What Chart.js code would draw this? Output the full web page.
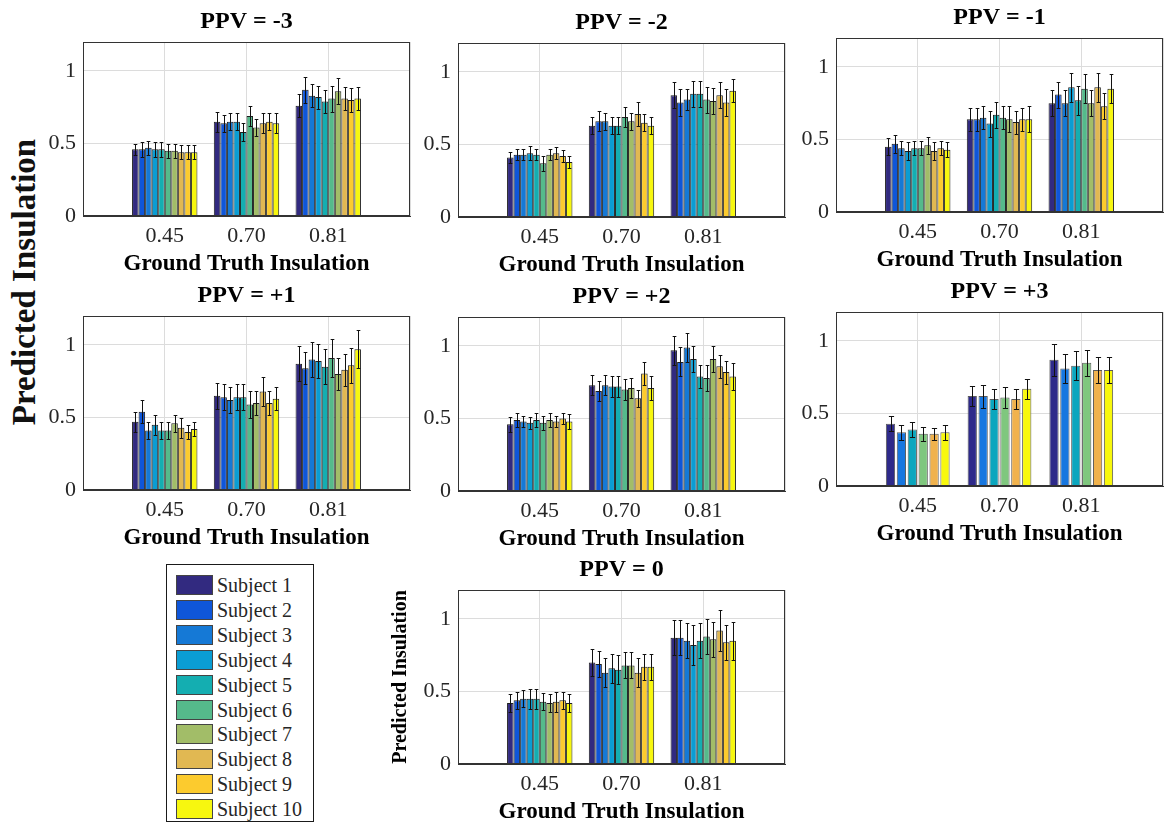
<!DOCTYPE html>
<html>
<head>
<meta charset="utf-8">
<script src="https://cdn.jsdelivr.net/npm/chart.js@4.4.1/dist/chart.umd.min.js"></script>
<style>
  html, body { margin: 0; padding: 0; background: #fff; }
  body { width: 1173px; height: 828px; position: relative; overflow: hidden;
         font-family: "Liberation Serif", "Times New Roman", serif; }
  canvas { position: absolute; }
  #bigLabel { position: absolute; left: 24px; top: 282px; transform: translate(-50%, -50%) rotate(-90deg);
              font-weight: bold; font-size: 33px; white-space: nowrap; color: #111; }
  #legend { position: absolute; left: 166px; top: 564px; width: 146px; height: 256px;
            border: 1.5px solid #1a1a1a; background: #fff; }
  .item { position: absolute; left: 9px; height: 20px; display: flex; align-items: center; }
  .swatch { width: 35px; height: 18px; border: 1px solid #444; margin-right: 4px; }
  .name { font-size: 20px; color: #262626; line-height: 20px; }
</style>
</head>
<body>
<div id="bigLabel">Predicted Insulation</div>
<div id="legend"></div>

<script>
// Ground-truth insulation groups on the x axis
const groupLabels = ['0.45', '0.70', '0.81'];

const subjects = ['Subject 1', 'Subject 2', 'Subject 3', 'Subject 4', 'Subject 5',
                  'Subject 6', 'Subject 7', 'Subject 8', 'Subject 9', 'Subject 10'];
const subjectColors = ['#322a80', '#0f56d9', '#1579d6', '#0a9dd3', '#14aeb1',
                       '#55ba8b', '#a2bd68', '#e1b852', '#fccb2e', '#f7f70f'];

// the PPV = +3 panel only has six subjects and its own palette
const subsetNames = ['Subject A', 'Subject B', 'Subject C', 'Subject D', 'Subject E', 'Subject F'];
const subsetColors = ['#2e2a8a', '#1777e0', '#0ba6be', '#7fc77e', '#f0b24d', '#f8f80c'];

const panelTitles = ['PPV = -3', 'PPV = -2', 'PPV = -1', 'PPV = +1', 'PPV = +2', 'PPV = +3', 'PPV = 0'];

// mean predicted insulation, one row per ground-truth group, one column per subject
const meanM3 = [
  [0.46, 0.46, 0.47, 0.46, 0.46, 0.45, 0.45, 0.44, 0.44, 0.44],
  [0.65, 0.64, 0.65, 0.65, 0.58, 0.69, 0.61, 0.64, 0.65, 0.64],
  [0.76, 0.87, 0.83, 0.82, 0.79, 0.81, 0.86, 0.81, 0.80, 0.81]
];
const errM3 = [
  [0.04, 0.05, 0.05, 0.05, 0.05, 0.05, 0.05, 0.05, 0.05, 0.05],
  [0.07, 0.06, 0.06, 0.06, 0.06, 0.07, 0.06, 0.07, 0.06, 0.07],
  [0.08, 0.09, 0.08, 0.08, 0.08, 0.09, 0.09, 0.08, 0.08, 0.08]
];

const meanM2 = [
  [0.41, 0.43, 0.43, 0.44, 0.43, 0.37, 0.43, 0.44, 0.42, 0.38],
  [0.63, 0.66, 0.66, 0.63, 0.63, 0.69, 0.66, 0.71, 0.65, 0.63],
  [0.84, 0.79, 0.81, 0.85, 0.85, 0.81, 0.80, 0.84, 0.79, 0.87]
];
const errM2 = [
  [0.04, 0.04, 0.04, 0.05, 0.04, 0.05, 0.04, 0.04, 0.04, 0.04],
  [0.06, 0.07, 0.06, 0.06, 0.06, 0.07, 0.06, 0.08, 0.06, 0.06],
  [0.09, 0.09, 0.07, 0.09, 0.09, 0.09, 0.09, 0.09, 0.09, 0.08]
];

const meanM1 = [
  [0.45, 0.47, 0.44, 0.42, 0.44, 0.44, 0.46, 0.42, 0.44, 0.43],
  [0.64, 0.64, 0.65, 0.61, 0.67, 0.65, 0.64, 0.62, 0.64, 0.64],
  [0.75, 0.81, 0.75, 0.86, 0.77, 0.85, 0.75, 0.86, 0.73, 0.85]
];
const errM1 = [
  [0.06, 0.06, 0.05, 0.06, 0.05, 0.05, 0.06, 0.06, 0.05, 0.05],
  [0.08, 0.08, 0.08, 0.09, 0.09, 0.08, 0.09, 0.08, 0.08, 0.09],
  [0.09, 0.09, 0.09, 0.10, 0.10, 0.10, 0.09, 0.10, 0.09, 0.10]
];

const meanP1 = [
  [0.47, 0.54, 0.41, 0.45, 0.41, 0.41, 0.46, 0.43, 0.40, 0.42],
  [0.65, 0.64, 0.62, 0.64, 0.64, 0.59, 0.60, 0.68, 0.60, 0.63],
  [0.87, 0.84, 0.90, 0.89, 0.85, 0.91, 0.80, 0.83, 0.86, 0.97]
];
const errP1 = [
  [0.07, 0.08, 0.06, 0.07, 0.06, 0.06, 0.06, 0.07, 0.05, 0.05],
  [0.09, 0.09, 0.09, 0.09, 0.09, 0.09, 0.08, 0.10, 0.08, 0.08],
  [0.12, 0.11, 0.12, 0.12, 0.12, 0.13, 0.11, 0.11, 0.12, 0.13]
];

const meanP2 = [
  [0.46, 0.49, 0.48, 0.47, 0.49, 0.47, 0.49, 0.48, 0.50, 0.48],
  [0.73, 0.69, 0.73, 0.72, 0.72, 0.70, 0.71, 0.64, 0.81, 0.71],
  [0.97, 0.89, 0.99, 0.91, 0.79, 0.78, 0.91, 0.86, 0.82, 0.79]
];
const errP2 = [
  [0.05, 0.05, 0.04, 0.04, 0.05, 0.05, 0.05, 0.04, 0.04, 0.05],
  [0.07, 0.07, 0.07, 0.07, 0.07, 0.07, 0.07, 0.06, 0.08, 0.08],
  [0.10, 0.10, 0.10, 0.09, 0.08, 0.09, 0.09, 0.08, 0.08, 0.09]
];

const meanP3 = [
  [0.43, 0.37, 0.39, 0.36, 0.36, 0.37],
  [0.62, 0.62, 0.60, 0.61, 0.60, 0.67],
  [0.87, 0.81, 0.83, 0.85, 0.80, 0.80]
];
const errP3 = [
  [0.05, 0.05, 0.05, 0.05, 0.04, 0.05],
  [0.07, 0.08, 0.07, 0.07, 0.07, 0.07],
  [0.11, 0.10, 0.10, 0.09, 0.09, 0.09]
];

const meanZero = [
  [0.42, 0.44, 0.45, 0.45, 0.45, 0.43, 0.42, 0.43, 0.44, 0.42],
  [0.70, 0.69, 0.63, 0.66, 0.65, 0.68, 0.68, 0.63, 0.67, 0.67],
  [0.87, 0.87, 0.85, 0.82, 0.85, 0.88, 0.86, 0.92, 0.84, 0.85]
];
const errZero = [
  [0.06, 0.06, 0.06, 0.07, 0.07, 0.06, 0.06, 0.07, 0.06, 0.06],
  [0.09, 0.09, 0.10, 0.10, 0.10, 0.09, 0.09, 0.10, 0.09, 0.09],
  [0.12, 0.12, 0.12, 0.14, 0.12, 0.12, 0.12, 0.14, 0.12, 0.13]
];

const yTicks = { min: 0, max: 1.2, step: 0.5 };

// ---- layout of the seven panels ----
const FONT = '"Liberation Serif", "Times New Roman", serif';
const BOX_W = 333, BOX_H = 174, TOP_AREA = 35, BOTTOM_AREA = 60, RIGHT_PAD = 3;

const panels = [
  { title: panelTitles[0], mean: meanM3, err: errM3, boxLeft: 83,  boxTop: 42 },
  { title: panelTitles[1], mean: meanM2, err: errM2, boxLeft: 458, boxTop: 43 },
  { title: panelTitles[2], mean: meanM1, err: errM1, boxLeft: 836, boxTop: 38 },
  { title: panelTitles[3], mean: meanP1, err: errP1, boxLeft: 83,  boxTop: 316 },
  { title: panelTitles[4], mean: meanP2, err: errP2, boxLeft: 458, boxTop: 317 },
  { title: panelTitles[5], mean: meanP3, err: errP3, boxLeft: 836, boxTop: 312, subset: true },
  { title: panelTitles[6], mean: meanZero, err: errZero, boxLeft: 458, boxTop: 590, yTitle: 'Predicted Insulation' }
];

// error bars drawn on top of each bar from the dataset's `errors` array
const errorBars = {
  id: 'errorBars',
  afterDatasetsDraw(chart) {
    const ctx = chart.ctx, ys = chart.scales.y;
    ctx.save();
    ctx.strokeStyle = '#111';
    ctx.lineWidth = 1;
    chart.data.datasets.forEach((ds, i) => {
      const meta = chart.getDatasetMeta(i);
      meta.data.forEach((bar, j) => {
        const v = ds.data[j], e = ds.errors[j];
        if (v == null || e == null) return;
        const x = Math.round(bar.x) + 0.5;
        const hi = Math.round(ys.getPixelForValue(v + e)) + 0.5;
        const lo = Math.round(ys.getPixelForValue(v - e)) + 0.5;
        const cap = Math.max(1.5, bar.width * 0.28);
        ctx.beginPath();
        ctx.moveTo(x, hi); ctx.lineTo(x, lo);
        ctx.moveTo(x - cap, hi); ctx.lineTo(x + cap, hi);
        ctx.moveTo(x - cap, lo); ctx.lineTo(x + cap, lo);
        ctx.stroke();
      });
    });
    ctx.restore();
  }
};

// closed axes box around the plot area
const axesBox = {
  id: 'axesBox',
  afterDraw(chart) {
    const { left, top, right, bottom } = chart.chartArea;
    const ctx = chart.ctx;
    ctx.save();
    ctx.strokeStyle = '#333';
    ctx.lineWidth = 1;
    ctx.strokeRect(Math.round(left) + 0.5, Math.round(top) + 0.5,
                   Math.round(right - left) - 1, Math.round(bottom - top) - 1);
    ctx.restore();
  }
};

function buildDatasets(mean, err, names, colors, subset) {
  return colors.map((c, s) => ({
    label: names[s],
    data: [null, mean[0][s], mean[1][s], mean[2][s], null],
    errors: [null, err[0][s], err[1][s], err[2][s], null],
    backgroundColor: c,
    borderColor: subset ? '#5a5a5a' : '#1e1e1e',
    borderWidth: 1,
    categoryPercentage: 0.8,
    barPercentage: subset ? 0.85 : 1.0
  }));
}

panels.forEach(p => {
  const yAxisW = p.yTitle ? 68 : 60;
  const canvas = document.createElement('canvas');
  canvas.width = yAxisW + BOX_W + RIGHT_PAD;
  canvas.height = TOP_AREA + BOX_H + BOTTOM_AREA;
  canvas.style.left = (p.boxLeft - yAxisW) + 'px';
  canvas.style.top = (p.boxTop - TOP_AREA) + 'px';
  document.body.appendChild(canvas);

  const datasets = p.subset
    ? buildDatasets(p.mean, p.err, subsetNames, subsetColors, true)
    : buildDatasets(p.mean, p.err, subjects, subjectColors, false);

  new Chart(canvas, {
    type: 'bar',
    data: { labels: ['', ...groupLabels, ''], datasets },
    options: {
      responsive: false,
      animation: false,
      events: [],
      layout: { padding: { left: 0, right: RIGHT_PAD, top: 0, bottom: 0 } },
      plugins: {
        legend: { display: false },
        tooltip: { enabled: false },
        title: {
          display: true,
          text: p.title,
          fullSize: false,
          color: '#000',
          font: { family: FONT, size: 24, weight: 'bold', lineHeight: 1.25 },
          padding: { top: 0, bottom: 5 }
        }
      },
      scales: {
        x: {
          type: 'category',
          offset: false,
          grid: { color: '#dcdcdc', drawTicks: false, offset: false },
          border: { color: '#333' },
          ticks: { autoSkip: false, maxRotation: 0, padding: 9, color: '#262626',
                   font: { family: FONT, size: 22, lineHeight: 1 } },
          title: { display: true, text: 'Ground Truth Insulation', color: '#000',
                   font: { family: FONT, size: 23, weight: 'bold', lineHeight: 1 },
                   padding: { top: -3, bottom: 0 } }
        },
        y: {
          min: yTicks.min, max: yTicks.max,
          grid: { color: '#dcdcdc', drawTicks: false },
          border: { color: '#333' },
          ticks: { stepSize: yTicks.step, includeBounds: false, padding: 7, color: '#262626',
                   font: { family: FONT, size: 22, lineHeight: 1 },
                   callback: v => String(Math.round(v * 100) / 100) },
          title: { display: !!p.yTitle, text: p.yTitle || '', color: '#000',
                   font: { family: FONT, size: 20, weight: 'bold', lineHeight: 1.1 },
                   padding: { top: 0, bottom: 0 } },
          afterFit(scale) { scale.width = yAxisW; }
        }
      }
    },
    plugins: [errorBars, axesBox]
  });
});

// shared legend for the ten subjects
const legend = document.getElementById('legend');
subjects.forEach((name, i) => {
  const row = document.createElement('div');
  row.className = 'item';
  row.style.top = (10 + i * 24.9) + 'px';
  const sw = document.createElement('div');
  sw.className = 'swatch';
  sw.style.background = subjectColors[i];
  const label = document.createElement('span');
  label.className = 'name';
  label.textContent = name;
  row.appendChild(sw);
  row.appendChild(label);
  legend.appendChild(row);
});
</script>
</body>
</html>
